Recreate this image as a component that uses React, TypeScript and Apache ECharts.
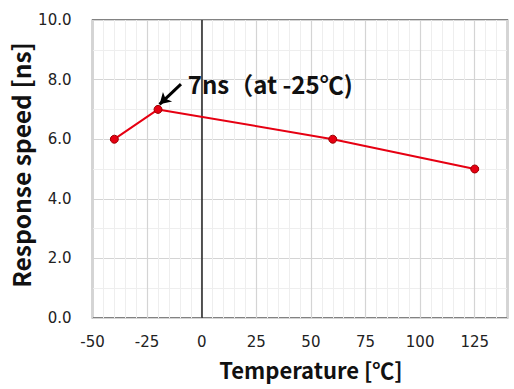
import React, { useEffect, useRef } from "react";
import * as echarts from "echarts";

const temperatures = [-40, -20, 60, 125];
const responseNs = [6, 7, 6, 5];
const xTicks = [-50, -25, 0, 25, 50, 75, 100, 125];
const yTicks = [0, 2, 4, 6, 8, 10];
const annotationText = "7ns（at -25℃)";
const xName = "Temperature [℃]";
const yName = "Response speed [ns]";

export default function App() {
  const ref = useRef<HTMLDivElement>(null);
  useEffect(() => {
    if (!ref.current) return;
    const chart = echarts.init(ref.current, null, { renderer: "svg" });
    const labelFont = "'DejaVu Sans', Verdana, sans-serif";
    const boldFont = "'Noto Sans CJK JP', 'DejaVu Sans', sans-serif";
    const grid = { left: 92.5, right: 6.5, top: 20, bottom: 71, containLabel: false, outerBoundsMode: "none", show: true, borderColor: "#595959", borderWidth: 1.5, backgroundColor: "#fff" };
    const option: any = {
      animation: false,
      backgroundColor: "#ffffff",
      grid,
      xAxis: [
        {
          type: "value", position: "bottom", min: -50, max: 140, interval: 5,
          axisLine: { show: false }, axisTick: { show: false }, axisLabel: { show: false },
          splitLine: { show: true, lineStyle: { color: "#eeeeee", width: 1 } },
        },
        {
          type: "value", position: "bottom", min: xTicks[0], max: 140, interval: 25,
          axisLine: { show: false }, axisTick: { show: false },
          axisLabel: { showMaxLabel: false, color: "#222", fontSize: 15, fontFamily: labelFont, margin: 16 },
          splitLine: { show: true, lineStyle: { color: "#d4d4d4", width: 1.2 } },
          name: xName, nameLocation: "middle", nameGap: 39, nameMoveOverlap: false,
          nameTextStyle: { fontSize: 22, lineHeight: 24, fontWeight: "bold", color: "#111", fontFamily: boldFont, padding: [0, 0, 0, 22] },
        },
      ],
      yAxis: [
        {
          type: "value", position: "left", min: 0, max: 10, interval: 1,
          axisLine: { show: false }, axisTick: { show: false }, axisLabel: { show: false },
          splitLine: { show: true, lineStyle: { color: "#eeeeee", width: 1 } },
        },
        {
          type: "value", position: "left", min: yTicks[0], max: yTicks[yTicks.length - 1], interval: 2,
          axisLine: { show: false }, axisTick: { show: false },
          axisLabel: { color: "#222", fontSize: 15, fontFamily: labelFont, margin: 21, formatter: (v: number) => v.toFixed(1) },
          splitLine: { show: true, lineStyle: { color: "#d4d4d4", width: 1.2 } },
          name: yName, nameLocation: "middle", nameGap: 59, nameMoveOverlap: false,
          nameTextStyle: { fontSize: 24.5, lineHeight: 26, fontWeight: "bold", color: "#111", fontFamily: boldFont, padding: [0, 0, 0, 8] },
        },
      ],
      series: [
        {
          type: "line",
          xAxisIndex: 1, yAxisIndex: 1,
          data: temperatures.map((t, i) => [t, responseNs[i]]),
          lineStyle: { color: "#e60012", width: 2 },
          symbol: "circle", symbolSize: 8,
          itemStyle: { color: "#e60012", borderColor: "#9b0000", borderWidth: 1 },
          z: 5,
          markLine: {
            silent: true,
            symbol: ["none", "none"],
            label: { show: false },
            lineStyle: { color: "#222", width: 1.5, type: "solid" },
            data: [{ xAxis: 0 }],
          },
        },
        {
          type: "line",
          xAxisIndex: 1, yAxisIndex: 1,
          data: [],
          z: 6,
          markLine: {
            silent: true,
            symbol: ["none", "arrow"],
            symbolSize: [10, 11],
            label: { show: false },
            lineStyle: { color: "#000", width: 3, type: "solid" },
            data: [[{ coord: [-9.5, 7.85] }, { coord: [-19.3, 7.17] }]],
          },
          markPoint: {
            silent: true,
            symbol: "circle", symbolSize: 0,
            label: {
              show: true, position: "right", distance: 0,
              formatter: annotationText,
              fontSize: 24, fontWeight: "bold", color: "#111", fontFamily: boldFont,
            },
            data: [{ coord: [-6.4, 7.88] }],
          },
        },
      ],
    };
    chart.setOption(option);
    return () => chart.dispose();
  }, []);
  return <div ref={ref} style={{ position: "fixed", left: 0, top: 0, width: 514, height: 389 }} />;
}
